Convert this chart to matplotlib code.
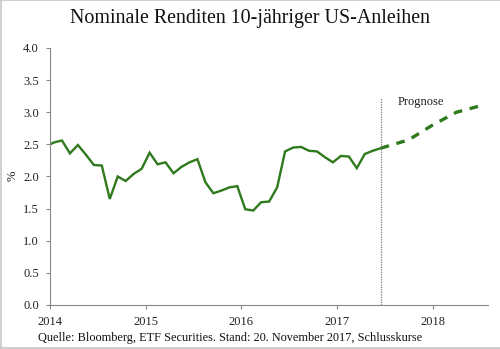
import matplotlib
matplotlib.use("Agg")
import matplotlib.pyplot as plt
from matplotlib.lines import Line2D

plt.rcParams['font.family'] = ['Liberation Serif', 'DejaVu Serif']

# ---- data ----
years = [2014, 2015, 2016, 2017]
yields_2014 = [2.53, 2.56, 2.36, 2.49, 2.34, 2.18, 2.17, 1.65, 2.00, 1.93, 2.04, 2.12]
yields_2015 = [2.37, 2.19, 2.22, 2.05, 2.15, 2.22, 2.27, 1.91, 1.74, 1.78, 1.83, 1.85]
yields_2016 = [1.49, 1.47, 1.60, 1.61, 1.83, 2.39, 2.45, 2.46, 2.40, 2.39, 2.30, 2.22]
yields_2017 = [2.32, 2.31, 2.13, 2.35, 2.40, 2.44]
start_date, start_value = 2014.0, 2.50

forecast_dates = [2017.458, 2017.75, 2018.0, 2018.25, 2018.55]
forecast_values = [2.44, 2.57, 2.80, 3.00, 3.12]

x_ticks = [2014, 2015, 2016, 2017, 2018]
y_ticks = [0.0, 0.5, 1.0, 1.5, 2.0, 2.5, 3.0, 3.5, 4.0]

title = "Nominale Renditen 10-jähriger US-Anleihen"
source = "Quelle: Bloomberg, ETF Securities. Stand: 20. November 2017, Schlusskurse"

# build monthly (mid-month) series
hist_x = [start_date]
hist_y = [start_value]
for yr, vals in zip(years, [yields_2014, yields_2015, yields_2016, yields_2017]):
    for m, v in enumerate(vals):
        hist_x.append(yr + (m + 0.5) / 12)
        hist_y.append(v)

green = '#2f7a1c'
txt = '#222222'

fig = plt.figure(figsize=(5.0, 3.49), dpi=100)
ax = fig.add_axes([0.1, 0.1261, 0.876, 0.7364])

ax.plot(hist_x, hist_y, color=green, lw=1.7, solid_joinstyle='miter')
ax.plot(forecast_dates, forecast_values, color=green, lw=2.4, dashes=(2.6, 2.3))
ax.vlines(hist_x[-1], 0, 3.22, colors='#777777', linestyles=(0, (1, 1)), lw=0.9)
ax.text(2017.64, 3.16, "Prognose", fontsize=9, va='center', ha='left', color=txt)

ax.set_xlim(2014, 2018.58)
ax.set_ylim(0, 4)
ax.set_xticks(x_ticks)
ax.set_xticklabels([str(t) for t in x_ticks])
ax.set_yticks(y_ticks)
ax.set_yticklabels([f"{t:.1f}" for t in y_ticks])
for s in ['top', 'right']:
    ax.spines[s].set_visible(False)
for s in ['left', 'bottom']:
    ax.spines[s].set_color('#888888')
    ax.spines[s].set_linewidth(0.8)
ax.tick_params(axis='both', colors='#888888', labelcolor=txt, labelsize=9, length=3, width=0.8)
ax.tick_params(axis='x', pad=5)
ax.tick_params(axis='y', pad=5)

fig.text(0.5, 0.948, title, fontsize=14.4, ha='center', va='center', color='#111111')
fig.text(0.026, 0.496, "%", fontsize=9, rotation=90, ha='center', va='center', color=txt)
fig.text(0.076, 0.0315, source, fontsize=8.8, ha='left', va='center', color='#111111')

# light gray frame (top, left, bottom)
frame_kw = dict(color='#c8c8c8', lw=1.2, transform=fig.transFigure)
fig.add_artist(Line2D([0, 1], [0.999, 0.999], **frame_kw))
fig.add_artist(Line2D([0.001, 0.001], [0, 1], **frame_kw))
fig.add_artist(Line2D([0, 1], [0.002, 0.002], **frame_kw))

fig.savefig("out.png", dpi=100)
